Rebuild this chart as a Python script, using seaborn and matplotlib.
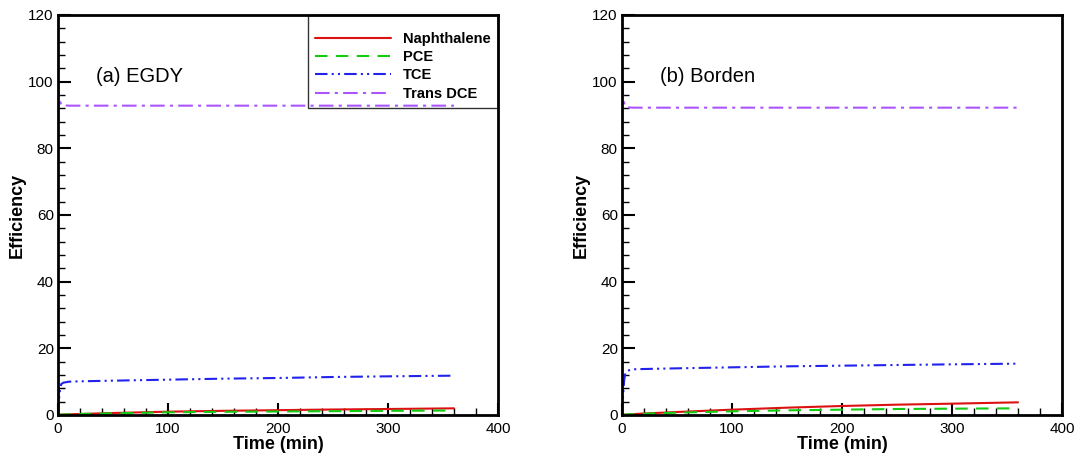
import numpy as np
import pandas as pd
import matplotlib
matplotlib.use("Agg")
import matplotlib.pyplot as plt
import seaborn as sns
from matplotlib.ticker import MultipleLocator

# ---- data ----
time = [0, 1, 2, 3, 5, 10, 20, 50, 100, 150, 200, 250, 300, 360]

# (a) EGDY
a_naph = [0, 0.05, 0.1, 0.1, 0.15, 0.2, 0.3, 0.6, 1.0, 1.25, 1.45, 1.65, 1.8, 2.0]
a_pce = [0, 0.05, 0.1, 0.1, 0.15, 0.2, 0.3, 0.5, 0.8, 0.95, 1.05, 1.15, 1.25, 1.35]
a_tce = [0, 5.0, 8.0, 9.3, 9.7, 10.0, 10.1, 10.3, 10.6, 10.9, 11.1, 11.4, 11.6, 11.8]
a_dce = [100, 96.0, 94.0, 93.0, 92.9, 92.8, 92.8, 92.8, 92.8, 92.8, 92.8, 92.8, 92.8, 92.8]

# (b) Borden
b_naph = [0, 0.05, 0.1, 0.1, 0.15, 0.25, 0.45, 0.9, 1.6, 2.2, 2.7, 3.1, 3.4, 3.8]
b_pce = [0, 0.05, 0.1, 0.1, 0.15, 0.25, 0.4, 0.7, 1.1, 1.4, 1.6, 1.8, 1.9, 2.0]
b_tce = [0, 6.0, 10.5, 12.5, 13.3, 13.7, 13.8, 14.0, 14.3, 14.6, 14.8, 15.0, 15.2, 15.4]
b_dce = [100, 96.0, 93.5, 92.5, 92.3, 92.2, 92.2, 92.2, 92.2, 92.2, 92.2, 92.2, 92.2, 92.2]

series = ["Naphthalene", "PCE", "TCE", "Trans DCE"]
panel_titles = ["(a) EGDY", "(b) Borden"]
colors = {"Naphthalene": "#dd1111", "PCE": "#11cc11", "TCE": "#2222ee", "Trans DCE": "#aa55ff"}
dashes = {"Naphthalene": "", "PCE": (6, 4), "TCE": (6, 2, 1, 2, 1, 2),
          "Trans DCE": (7, 2.5, 1.5, 2.5)}

def long_df(vals):
    frames = []
    for name, v in zip(series, vals):
        frames.append(pd.DataFrame({"Time": time, "Efficiency": v, "Series": name}))
    return pd.concat(frames, ignore_index=True)

data = [long_df([a_naph, a_pce, a_tce, a_dce]), long_df([b_naph, b_pce, b_tce, b_dce])]

sns.set_theme(style="white")
plt.rcParams["font.family"] = ["Liberation Sans", "DejaVu Sans"]
plt.rcParams["text.color"] = "black"
plt.rcParams["axes.labelcolor"] = "black"
plt.rcParams["xtick.color"] = "black"
plt.rcParams["ytick.color"] = "black"

fig = plt.figure(figsize=(10.8, 4.58), dpi=100)
W, H = 1080, 458
positions = [(58, 15, 440, 400), (622, 15, 440, 400)]

for i, (df, title, pos) in enumerate(zip(data, panel_titles, positions)):
    x0, y0, w, h = pos
    ax = fig.add_axes([x0 / W, (H - y0 - h) / H, w / W, h / H])
    sns.lineplot(data=df, x="Time", y="Efficiency", hue="Series", style="Series",
                 palette=colors, dashes=dashes, hue_order=series, style_order=series,
                 linewidth=1.5, ax=ax, legend=(i == 0), estimator=None, sort=False)
    ax.set_xlim(0, 400)
    ax.set_ylim(0, 120)
    ax.xaxis.set_major_locator(MultipleLocator(100))
    ax.xaxis.set_minor_locator(MultipleLocator(20))
    ax.yaxis.set_major_locator(MultipleLocator(20))
    ax.yaxis.set_minor_locator(MultipleLocator(4))
    ax.tick_params(which="major", direction="in", length=9, width=1.5, labelsize=11,
                   bottom=True, left=True, top=False, right=False, colors="black")
    ax.tick_params(axis="x", which="major", pad=5)
    ax.tick_params(axis="y", which="major", pad=3)
    ax.tick_params(which="minor", direction="in", length=5, width=1.0,
                   bottom=True, left=True, top=False, right=False, colors="black")
    for s in ax.spines.values():
        s.set_linewidth(2)
        s.set_color("black")
    ax.set_xlabel("Time (min)", fontsize=13, fontweight="bold", labelpad=0)
    ax.set_ylabel("Efficiency", fontsize=13, fontweight="bold", labelpad=2)
    ax.text(35, 101.5, title, fontsize=14.5, va="center", ha="left")
    if i == 0:
        leg = ax.legend(loc="upper right", frameon=True, fancybox=False, handlelength=5.2,
                        borderaxespad=0, prop={"weight": "bold", "size": 10.5},
                        borderpad=0.5, labelspacing=0.3, handletextpad=0.8,
                        title=" ", title_fontsize=4)
        leg.get_frame().set_edgecolor("black")
        leg.get_frame().set_facecolor("none")
        leg.get_frame().set_linewidth(1.0)
        for line in leg.get_lines():
            line.set_linewidth(1.5)

fig.savefig("out.png", dpi=100)
